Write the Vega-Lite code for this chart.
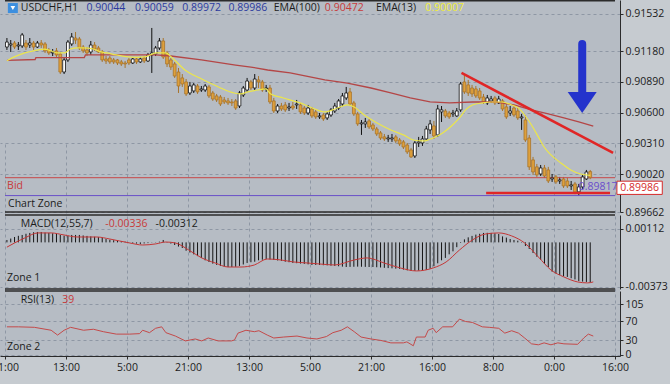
{
"$schema":"https://vega.github.io/schema/vega-lite/v6.json",
"width":620,"height":356,
"autosize":{"type":"none"},
"padding":{"left":0,"top":0,"right":50,"bottom":28},
"background":"#c6cbd0",
"config":{"view":{"fill":"#b6bcc4","stroke":null},"font":"Open Sans","text":{"font":"Open Sans","fontSize":10.5}},
"datasets":{
"bars":[
{"i":0,"o":0.9122,"h":0.91305,"l":0.91192,"c":0.91267,"m":0.0002},
{"i":1,"o":0.91239,"h":0.91286,"l":0.91173,"c":0.91249,"m":0.00032},
{"i":2,"o":0.91258,"h":0.91277,"l":0.91201,"c":0.9122,"m":0.00045},
{"i":3,"o":0.9123,"h":0.91267,"l":0.91192,"c":0.91239,"m":0.00055},
{"i":4,"o":0.9123,"h":0.91352,"l":0.91211,"c":0.91334,"m":0.00062},
{"i":5,"o":0.91258,"h":0.91286,"l":0.91192,"c":0.9122,"m":0.00072},
{"i":6,"o":0.91239,"h":0.91305,"l":0.91211,"c":0.91258,"m":0.00079},
{"i":7,"o":0.91258,"h":0.91277,"l":0.91192,"c":0.9122,"m":0.00085},
{"i":8,"o":0.9122,"h":0.91277,"l":0.91211,"c":0.91258,"m":0.00087},
{"i":9,"o":0.91258,"h":0.91286,"l":0.91211,"c":0.91239,"m":0.00087},
{"i":10,"o":0.91249,"h":0.91267,"l":0.91164,"c":0.91183,"m":0.00082},
{"i":11,"o":0.91192,"h":0.91211,"l":0.91145,"c":0.91164,"m":0.00079},
{"i":12,"o":0.91164,"h":0.91201,"l":0.91135,"c":0.91173,"m":0.00076},
{"i":13,"o":0.91183,"h":0.91211,"l":0.91126,"c":0.91145,"m":0.0007},
{"i":14,"o":0.91154,"h":0.91173,"l":0.90965,"c":0.90984,"m":0.00062},
{"i":15,"o":0.90984,"h":0.91116,"l":0.90965,"c":0.91098,"m":0.00056},
{"i":16,"o":0.91098,"h":0.91286,"l":0.91079,"c":0.91267,"m":0.00056},
{"i":17,"o":0.91249,"h":0.91352,"l":0.9123,"c":0.91315,"m":0.00062},
{"i":18,"o":0.91305,"h":0.91362,"l":0.91249,"c":0.91286,"m":0.00062},
{"i":19,"o":0.91296,"h":0.91315,"l":0.91192,"c":0.91211,"m":0.00062},
{"i":20,"o":0.9122,"h":0.91239,"l":0.91164,"c":0.91183,"m":0.00058},
{"i":21,"o":0.91192,"h":0.9122,"l":0.91135,"c":0.91164,"m":0.00054},
{"i":22,"o":0.91173,"h":0.91277,"l":0.91145,"c":0.91239,"m":0.0005},
{"i":23,"o":0.91239,"h":0.91267,"l":0.91183,"c":0.91201,"m":0.00047},
{"i":24,"o":0.91211,"h":0.9123,"l":0.91164,"c":0.91173,"m":0.00044},
{"i":25,"o":0.91173,"h":0.91192,"l":0.91079,"c":0.91098,"m":0.00038},
{"i":26,"o":0.91107,"h":0.91135,"l":0.9106,"c":0.91088,"m":0.00028},
{"i":27,"o":0.91116,"h":0.91135,"l":0.9106,"c":0.91079,"m":0.00022},
{"i":28,"o":0.91098,"h":0.91116,"l":0.9106,"c":0.91079,"m":0.00018},
{"i":29,"o":0.91098,"h":0.91107,"l":0.9105,"c":0.91069,"m":0.00013},
{"i":30,"o":0.91079,"h":0.91098,"l":0.91041,"c":0.9106,"m":0.0001},
{"i":31,"o":0.91069,"h":0.91088,"l":0.91022,"c":0.9106,"m":0.00006},
{"i":32,"o":0.91098,"h":0.91116,"l":0.9105,"c":0.91069,"m":0.00002},
{"i":33,"o":0.91069,"h":0.91116,"l":0.9106,"c":0.91107,"m":-0.00005},
{"i":34,"o":0.91107,"h":0.91126,"l":0.9106,"c":0.91079,"m":-0.0001},
{"i":35,"o":0.91079,"h":0.91126,"l":0.91069,"c":0.91107,"m":-0.00013},
{"i":36,"o":0.91116,"h":0.91135,"l":0.91069,"c":0.91088,"m":-0.00009},
{"i":37,"o":0.91088,"h":0.91164,"l":0.91079,"c":0.91145,"m":-0.00006},
{"i":38,"o":0.91145,"h":0.914,"l":0.90975,"c":0.91164,"m":-0.00002},
{"i":39,"o":0.91154,"h":0.9123,"l":0.91135,"c":0.91211,"m":0.00002},
{"i":40,"o":0.91211,"h":0.91305,"l":0.91192,"c":0.91277,"m":0.00006},
{"i":41,"o":0.91277,"h":0.91305,"l":0.91107,"c":0.91126,"m":0.0002},
{"i":42,"o":0.91164,"h":0.91183,"l":0.91031,"c":0.9106,"m":-0.00003},
{"i":43,"o":0.91098,"h":0.91116,"l":0.91003,"c":0.91031,"m":-0.0001},
{"i":44,"o":0.9106,"h":0.91079,"l":0.90928,"c":0.90946,"m":-0.00022},
{"i":45,"o":0.90984,"h":0.91022,"l":0.90786,"c":0.90852,"m":-0.00035},
{"i":46,"o":0.90928,"h":0.90965,"l":0.90843,"c":0.90871,"m":-0.00047},
{"i":47,"o":0.9089,"h":0.90918,"l":0.90758,"c":0.90777,"m":-0.0007},
{"i":48,"o":0.90786,"h":0.9089,"l":0.90767,"c":0.90852,"m":-0.00085},
{"i":49,"o":0.90805,"h":0.9088,"l":0.90786,"c":0.90862,"m":-0.001},
{"i":50,"o":0.90852,"h":0.90871,"l":0.90777,"c":0.90796,"m":-0.00115},
{"i":51,"o":0.90814,"h":0.90852,"l":0.90796,"c":0.90824,"m":-0.0013},
{"i":52,"o":0.90814,"h":0.90871,"l":0.90796,"c":0.90852,"m":-0.0015},
{"i":53,"o":0.90843,"h":0.90862,"l":0.90739,"c":0.90758,"m":-0.00164},
{"i":54,"o":0.90786,"h":0.90805,"l":0.90711,"c":0.90729,"m":-0.00178},
{"i":55,"o":0.90758,"h":0.90777,"l":0.90701,"c":0.9072,"m":-0.00188},
{"i":56,"o":0.90748,"h":0.90767,"l":0.90663,"c":0.90682,"m":-0.00197},
{"i":57,"o":0.9072,"h":0.90748,"l":0.90682,"c":0.90701,"m":-0.00202},
{"i":58,"o":0.90711,"h":0.90739,"l":0.90673,"c":0.90692,"m":-0.00206},
{"i":59,"o":0.90701,"h":0.90729,"l":0.90663,"c":0.90692,"m":-0.00206},
{"i":60,"o":0.90711,"h":0.90729,"l":0.90626,"c":0.90644,"m":-0.00204},
{"i":61,"o":0.90663,"h":0.90805,"l":0.90644,"c":0.90786,"m":-0.00197},
{"i":62,"o":0.90767,"h":0.90852,"l":0.90748,"c":0.90833,"m":-0.00185},
{"i":63,"o":0.90814,"h":0.90928,"l":0.90796,"c":0.90899,"m":-0.00172},
{"i":64,"o":0.9089,"h":0.90909,"l":0.90814,"c":0.90833,"m":-0.00166},
{"i":65,"o":0.90833,"h":0.90965,"l":0.90814,"c":0.90918,"m":-0.00162},
{"i":66,"o":0.90909,"h":0.90946,"l":0.90833,"c":0.9089,"m":-0.0015},
{"i":67,"o":0.9089,"h":0.90909,"l":0.90796,"c":0.90814,"m":-0.00145},
{"i":68,"o":0.90824,"h":0.90862,"l":0.90796,"c":0.90833,"m":-0.00139},
{"i":69,"o":0.90833,"h":0.90862,"l":0.90682,"c":0.90701,"m":-0.00143},
{"i":70,"o":0.90711,"h":0.90739,"l":0.90597,"c":0.90616,"m":-0.00147},
{"i":71,"o":0.90616,"h":0.90682,"l":0.90597,"c":0.90663,"m":-0.00151},
{"i":72,"o":0.90663,"h":0.90692,"l":0.90616,"c":0.90635,"m":-0.00155},
{"i":73,"o":0.90673,"h":0.90701,"l":0.90607,"c":0.90626,"m":-0.00162},
{"i":74,"o":0.90644,"h":0.90692,"l":0.90616,"c":0.90654,"m":-0.00166},
{"i":75,"o":0.90663,"h":0.90701,"l":0.90626,"c":0.90644,"m":-0.00172},
{"i":76,"o":0.90673,"h":0.9072,"l":0.90635,"c":0.90682,"m":-0.00174},
{"i":77,"o":0.90673,"h":0.90692,"l":0.90588,"c":0.90607,"m":-0.00177},
{"i":78,"o":0.90644,"h":0.90663,"l":0.90578,"c":0.90597,"m":-0.0018},
{"i":79,"o":0.90597,"h":0.90673,"l":0.90578,"c":0.90644,"m":-0.00184},
{"i":80,"o":0.90635,"h":0.90654,"l":0.9055,"c":0.90569,"m":-0.00189},
{"i":81,"o":0.90607,"h":0.90626,"l":0.90541,"c":0.9056,"m":-0.00189},
{"i":82,"o":0.9056,"h":0.90597,"l":0.90541,"c":0.90569,"m":-0.00189},
{"i":83,"o":0.90578,"h":0.90597,"l":0.90522,"c":0.90541,"m":-0.00191},
{"i":84,"o":0.9055,"h":0.90607,"l":0.90531,"c":0.90588,"m":-0.00192},
{"i":85,"o":0.90578,"h":0.90644,"l":0.9056,"c":0.90626,"m":-0.00195},
{"i":86,"o":0.90616,"h":0.90692,"l":0.90597,"c":0.90663,"m":-0.00197},
{"i":87,"o":0.90644,"h":0.90729,"l":0.90626,"c":0.90711,"m":-0.002},
{"i":88,"o":0.90682,"h":0.90786,"l":0.90663,"c":0.90758,"m":-0.00203},
{"i":89,"o":0.90739,"h":0.90843,"l":0.9072,"c":0.90786,"m":-0.00206},
{"i":90,"o":0.90796,"h":0.90833,"l":0.90663,"c":0.90682,"m":-0.00205},
{"i":91,"o":0.90692,"h":0.90711,"l":0.90569,"c":0.90588,"m":-0.00204},
{"i":92,"o":0.90588,"h":0.90607,"l":0.90475,"c":0.90494,"m":-0.00203},
{"i":93,"o":0.90494,"h":0.90531,"l":0.9039,"c":0.90503,"m":-0.00204},
{"i":94,"o":0.90494,"h":0.9055,"l":0.90456,"c":0.90512,"m":-0.00205},
{"i":95,"o":0.90522,"h":0.90541,"l":0.90446,"c":0.90465,"m":-0.00206},
{"i":96,"o":0.90484,"h":0.90503,"l":0.90427,"c":0.90446,"m":-0.00206},
{"i":97,"o":0.90446,"h":0.90465,"l":0.9038,"c":0.90399,"m":-0.00208},
{"i":98,"o":0.90409,"h":0.90427,"l":0.90342,"c":0.90361,"m":-0.0021},
{"i":99,"o":0.90371,"h":0.90399,"l":0.90333,"c":0.90352,"m":-0.00213},
{"i":100,"o":0.90352,"h":0.9039,"l":0.90324,"c":0.90361,"m":-0.00215},
{"i":101,"o":0.90352,"h":0.90399,"l":0.90324,"c":0.90361,"m":-0.00217},
{"i":102,"o":0.90371,"h":0.9039,"l":0.90314,"c":0.90333,"m":-0.0022},
{"i":103,"o":0.90342,"h":0.90361,"l":0.90286,"c":0.90305,"m":-0.00222},
{"i":104,"o":0.90324,"h":0.90342,"l":0.90257,"c":0.90276,"m":-0.00228},
{"i":105,"o":0.90295,"h":0.90314,"l":0.9021,"c":0.90229,"m":-0.00234},
{"i":106,"o":0.90248,"h":0.90267,"l":0.90172,"c":0.90182,"m":-0.00239},
{"i":107,"o":0.90191,"h":0.90333,"l":0.90172,"c":0.90314,"m":-0.00238},
{"i":108,"o":0.90314,"h":0.90371,"l":0.90276,"c":0.90324,"m":-0.00236},
{"i":109,"o":0.90314,"h":0.9038,"l":0.90286,"c":0.90352,"m":-0.00233},
{"i":110,"o":0.90352,"h":0.90475,"l":0.90333,"c":0.90446,"m":-0.00231},
{"i":111,"o":0.90437,"h":0.90531,"l":0.90399,"c":0.90494,"m":-0.0022},
{"i":112,"o":0.90475,"h":0.90522,"l":0.90352,"c":0.9038,"m":-0.002},
{"i":113,"o":0.9039,"h":0.90673,"l":0.90371,"c":0.90635,"m":-0.00175},
{"i":114,"o":0.90607,"h":0.90663,"l":0.90512,"c":0.90626,"m":-0.0015},
{"i":115,"o":0.90616,"h":0.90635,"l":0.9055,"c":0.90569,"m":-0.0013},
{"i":116,"o":0.90597,"h":0.90616,"l":0.90541,"c":0.9056,"m":-0.001},
{"i":117,"o":0.90588,"h":0.90626,"l":0.9056,"c":0.90597,"m":-0.00075},
{"i":118,"o":0.90569,"h":0.90644,"l":0.9056,"c":0.90616,"m":-0.0004},
{"i":119,"o":0.90626,"h":0.9089,"l":0.90607,"c":0.90871,"m":-0.00005},
{"i":120,"o":0.9089,"h":0.90965,"l":0.90777,"c":0.90796,"m":0.00025},
{"i":121,"o":0.90862,"h":0.90909,"l":0.90758,"c":0.90786,"m":0.00042},
{"i":122,"o":0.90833,"h":0.90862,"l":0.90748,"c":0.90777,"m":0.00054},
{"i":123,"o":0.90824,"h":0.90852,"l":0.90739,"c":0.90758,"m":0.00065},
{"i":124,"o":0.90805,"h":0.90833,"l":0.9072,"c":0.90739,"m":0.00072},
{"i":125,"o":0.90748,"h":0.90777,"l":0.90682,"c":0.90701,"m":0.00079},
{"i":126,"o":0.90692,"h":0.90767,"l":0.90673,"c":0.90739,"m":0.0008},
{"i":127,"o":0.90711,"h":0.90758,"l":0.90692,"c":0.90729,"m":0.00079},
{"i":128,"o":0.90739,"h":0.90758,"l":0.90673,"c":0.90692,"m":0.00075},
{"i":129,"o":0.90692,"h":0.90758,"l":0.90682,"c":0.90729,"m":0.0007},
{"i":130,"o":0.90711,"h":0.90729,"l":0.90616,"c":0.90635,"m":0.0005},
{"i":131,"o":0.90654,"h":0.90682,"l":0.90541,"c":0.9056,"m":0.0004},
{"i":132,"o":0.90597,"h":0.90663,"l":0.90569,"c":0.90616,"m":0.00028},
{"i":133,"o":0.90644,"h":0.90673,"l":0.9056,"c":0.90578,"m":0.0002},
{"i":134,"o":0.90616,"h":0.90644,"l":0.90531,"c":0.9055,"m":0.00014},
{"i":135,"o":0.9055,"h":0.90588,"l":0.90437,"c":0.9056,"m":-0.00003},
{"i":136,"o":0.90531,"h":0.90578,"l":0.90324,"c":0.90342,"m":-0.0003},
{"i":137,"o":0.90361,"h":0.9039,"l":0.90059,"c":0.90088,"m":-0.00055},
{"i":138,"o":0.90154,"h":0.90182,"l":0.90012,"c":0.9004,"m":-0.00089},
{"i":139,"o":0.90088,"h":0.90116,"l":0.89993,"c":0.90012,"m":-0.0012},
{"i":140,"o":0.90021,"h":0.90106,"l":0.90002,"c":0.90078,"m":-0.00147},
{"i":141,"o":0.90078,"h":0.90106,"l":0.89984,"c":0.90002,"m":-0.0018},
{"i":142,"o":0.90059,"h":0.90088,"l":0.89936,"c":0.89955,"m":-0.00206},
{"i":143,"o":0.89974,"h":0.90021,"l":0.89946,"c":0.89984,"m":-0.00245},
{"i":144,"o":0.89993,"h":0.90012,"l":0.89927,"c":0.89946,"m":-0.0026},
{"i":145,"o":0.89955,"h":0.89993,"l":0.89927,"c":0.89965,"m":-0.00273},
{"i":146,"o":0.89974,"h":0.89993,"l":0.89889,"c":0.89908,"m":-0.00283},
{"i":147,"o":0.89955,"h":0.89984,"l":0.89889,"c":0.89908,"m":-0.00289},
{"i":148,"o":0.89908,"h":0.89955,"l":0.8987,"c":0.89918,"m":-0.003},
{"i":149,"o":0.89927,"h":0.89946,"l":0.8983,"c":0.89852,"m":-0.0031},
{"i":150,"o":0.89852,"h":0.89927,"l":0.89817,"c":0.89899,"m":-0.00323},
{"i":151,"o":0.89899,"h":0.90012,"l":0.8988,"c":0.89993,"m":-0.00328},
{"i":152,"o":0.89974,"h":0.90059,"l":0.89965,"c":0.9004,"m":-0.00331},
{"i":153,"o":0.90044,"h":0.90059,"l":0.89972,"c":0.89986,"m":-0.00336}
],
"ema13":[
{"i":0,"v":0.91091},{"i":2.1,"v":0.91129},{"i":4.7,"v":0.91164},{"i":7.2,"v":0.91185},{"i":9.8,"v":0.91201},{"i":11.5,"v":0.91185},{"i":13.3,"v":0.91164},{"i":15,"v":0.91164},{"i":16.7,"v":0.91201},{"i":18.4,"v":0.91211},{"i":20.1,"v":0.91211},{"i":22.7,"v":0.91201},{"i":24.5,"v":0.91176},{"i":26.2,"v":0.91164},{"i":28.7,"v":0.91145},{"i":31.3,"v":0.91129},{"i":33.9,"v":0.91123},{"i":36.5,"v":0.91129},{"i":39.1,"v":0.91164},{"i":41.6,"v":0.91164},{"i":43.4,"v":0.91116},{"i":46.7,"v":0.91003},{"i":51.1,"v":0.90918},{"i":55.5,"v":0.90843},{"i":59.6,"v":0.90786},{"i":61.4,"v":0.90777},{"i":63.2,"v":0.90796},{"i":65.8,"v":0.90814},{"i":67.9,"v":0.90824},{"i":69.2,"v":0.90777},{"i":72.5,"v":0.90739},{"i":76.9,"v":0.90692},{"i":79.5,"v":0.90654},{"i":83.4,"v":0.90607},{"i":86.7,"v":0.90644},{"i":89.3,"v":0.90673},{"i":91.1,"v":0.90654},{"i":93.7,"v":0.90578},{"i":97.1,"v":0.90503},{"i":100.7,"v":0.90437},{"i":104,"v":0.9039},{"i":106.6,"v":0.90342},{"i":109.2,"v":0.90333},{"i":111.8,"v":0.90361},{"i":114.3,"v":0.90409},{"i":116.9,"v":0.90484},{"i":118.7,"v":0.9055},{"i":120.3,"v":0.90626},{"i":122.1,"v":0.90673},{"i":124.7,"v":0.90692},{"i":127.2,"v":0.90701},{"i":129.8,"v":0.90701},{"i":132.4,"v":0.90673},{"i":134.2,"v":0.90644},{"i":135.8,"v":0.90578},{"i":137.6,"v":0.90484},{"i":139.4,"v":0.90371},{"i":140.9,"v":0.90276},{"i":142.7,"v":0.90201},{"i":145.3,"v":0.90125},{"i":147.9,"v":0.90059},{"i":150.5,"v":0.90021},{"i":153,"v":0.90007}
],
"ema100":[
{"i":0,"v":0.91093},{"i":7.4,"v":0.91102},{"i":7.6,"v":0.91119},{"i":20.3,"v":0.91121},{"i":20.6,"v":0.91145},{"i":39,"v":0.91145},{"i":43,"v":0.91135},{"i":51,"v":0.91098},{"i":60,"v":0.9105},{"i":64,"v":0.91031},{"i":68.4,"v":0.91003},{"i":74.3,"v":0.90975},{"i":79.5,"v":0.90937},{"i":83.4,"v":0.90909},{"i":89.3,"v":0.9088},{"i":95.5,"v":0.90833},{"i":100.7,"v":0.90786},{"i":105.8,"v":0.90739},{"i":111,"v":0.90701},{"i":116.1,"v":0.90692},{"i":122.1,"v":0.90701},{"i":128,"v":0.90701},{"i":133,"v":0.90673},{"i":137.6,"v":0.90626},{"i":142,"v":0.90588},{"i":146.1,"v":0.9055},{"i":150,"v":0.90512},{"i":153.8,"v":0.90472}
],
"sig":[
{"i":0,"v":-0.0004},{"i":2,"v":-0.00005},{"i":4.7,"v":0.00037},{"i":8.1,"v":0.00079},{"i":11.6,"v":0.00079},{"i":15,"v":0.00062},{"i":18.4,"v":0.00045},{"i":23.6,"v":0.00045},{"i":27,"v":0.00028},{"i":32.2,"v":-0.00005},{"i":35.6,"v":-0.00022},{"i":39,"v":-0.00013},{"i":41.7,"v":0.00003},{"i":44.2,"v":-0.00005},{"i":47.7,"v":-0.00064},{"i":51.1,"v":-0.0013},{"i":54.6,"v":-0.00172},{"i":58,"v":-0.00206},{"i":61.4,"v":-0.00206},{"i":64.9,"v":-0.00189},{"i":68.3,"v":-0.00139},{"i":71.8,"v":-0.00147},{"i":75.2,"v":-0.00164},{"i":78.7,"v":-0.00172},{"i":82.1,"v":-0.00181},{"i":86,"v":-0.00189},{"i":91.1,"v":-0.00147},{"i":94.5,"v":-0.0013},{"i":98.9,"v":-0.00172},{"i":103.2,"v":-0.00214},{"i":107.4,"v":-0.00239},{"i":111.8,"v":-0.00214},{"i":115.2,"v":-0.00164},{"i":118.7,"v":-0.00064},{"i":122.1,"v":0.0002},{"i":125.5,"v":0.0007},{"i":129,"v":0.00079},{"i":132.4,"v":0.00054},{"i":135.8,"v":-0.00005},{"i":139.4,"v":-0.00122},{"i":142.7,"v":-0.00231},{"i":146.1,"v":-0.00289},{"i":149.7,"v":-0.00331},{"i":152.3,"v":-0.00339},{"i":153.8,"v":-0.00331}
],
"rsi":[
{"i":0,"v":58},{"i":3,"v":58},{"i":7.2,"v":57},{"i":11.6,"v":51},{"i":13.3,"v":41},{"i":15,"v":51},{"i":16.7,"v":57},{"i":20.1,"v":51},{"i":22.7,"v":53},{"i":25.3,"v":48},{"i":28.7,"v":43},{"i":32.2,"v":43},{"i":34.8,"v":44},{"i":35.6,"v":51},{"i":37.4,"v":46},{"i":39,"v":55},{"i":40.6,"v":58},{"i":41.7,"v":46},{"i":44.2,"v":39},{"i":46.8,"v":29},{"i":49.4,"v":33},{"i":51.1,"v":29},{"i":52.8,"v":35},{"i":55.4,"v":29},{"i":58.9,"v":29},{"i":59.7,"v":31},{"i":60.6,"v":45},{"i":62.7,"v":51},{"i":64.9,"v":48},{"i":66.1,"v":50},{"i":68.3,"v":41},{"i":70,"v":35},{"i":72.6,"v":37},{"i":76.1,"v":39},{"i":78.7,"v":35},{"i":81.3,"v":33},{"i":83.8,"v":38},{"i":85.5,"v":46},{"i":87.7,"v":51},{"i":89.3,"v":58},{"i":91.1,"v":48},{"i":92.9,"v":37},{"i":95.5,"v":33},{"i":98.1,"v":30},{"i":100.7,"v":25},{"i":104,"v":25},{"i":104.9,"v":27},{"i":106.6,"v":19},{"i":107.4,"v":37},{"i":109.7,"v":37},{"i":110.5,"v":51},{"i":111.8,"v":55},{"i":112.6,"v":46},{"i":114.3,"v":58},{"i":116.9,"v":58},{"i":118.7,"v":74},{"i":120.3,"v":69},{"i":122.1,"v":67},{"i":124.7,"v":58},{"i":126.5,"v":57},{"i":129,"v":55},{"i":130.6,"v":45},{"i":132.4,"v":50},{"i":134.2,"v":45},{"i":135.8,"v":35},{"i":137.6,"v":23},{"i":139.4,"v":21},{"i":140.9,"v":25},{"i":142.7,"v":21},{"i":144.5,"v":25},{"i":146.1,"v":23},{"i":149.7,"v":22},{"i":151.3,"v":35},{"i":152.5,"v":43},{"i":153.8,"v":39}
],
"trend":[{"i":119.24,"v":0.90975},{"i":159.0,"v":0.9022}],
"support":[{"i":125.7,"v":0.89842},{"i":158.2,"v":0.89842}],
"arrow":[{"i":150.9,"top":0.91249,"bot":0.90767,"head":0.90696}],
"icon":[{"i":1.56,"v":0.91588}],
"box":[{"i":160.0,"i2":171.9,"v":0.89953,"v2":0.89828,"t":"0.89986","ic":165.95,"vc":0.8989}],
"bidline":[{"v":0.89986,"a":-0.5,"b":159.5}],
"lowline":[{"v":0.89817,"a":-0.5,"b":159.5}],
"sepP":[{"v":0.89662,"a":-0.5,"b":159.5},{"v":0.91657,"a":-0.5,"b":159.5}],
"sepM":[{"v":0.00229,"a":-0.5,"b":159.5},{"v":-0.0039,"a":-0.5,"b":159.5}],
"sepR":[{"v":131.8,"a":-0.5,"b":159.5}],
"txtP":[
{"t":"USDCHF,H1","i":3.63,"v":0.91588,"k":"dark"},
{"t":"0.90044","i":20.9,"v":0.91588,"k":"blue"},
{"t":"0.90059","i":33.6,"v":0.91588,"k":"blue"},
{"t":"0.89972","i":46.0,"v":0.91588,"k":"blue"},
{"t":"0.89986","i":58.1,"v":0.91588,"k":"blue"},
{"t":"EMA(100)","i":70.0,"v":0.91588,"k":"dark"},
{"t":"0.90472","i":83.4,"v":0.91588,"k":"red"},
{"t":"EMA(13)","i":96.8,"v":0.91588,"k":"dark"},
{"t":"0.90007","i":109.7,"v":0.91588,"k":"yellow"},
{"t":"Bid","i":0.05,"v":0.89908,"k":"red"},
{"t":"Chart Zone","i":0.3,"v":0.89738,"k":"dark"},
{"t":"0.89817","i":150.0,"v":0.89899,"k":"purple"}
],
"txtM":[
{"t":"MACD(12,55,7)","i":3.63,"v":0.00154,"k":"dark"},
{"t":"-0.00336","i":25.8,"v":0.00154,"k":"red"},
{"t":"-0.00312","i":39.0,"v":0.00154,"k":"dark"},
{"t":"Zone 1","i":0.0,"v":-0.00298,"k":"dark"}
],
"txtR":[
{"t":"RSI(13)","i":3.63,"v":113,"k":"dark"},
{"t":"39","i":14.5,"v":113,"k":"red"},
{"t":"Zone 2","i":0.0,"v":16.5,"k":"dark"}
]
},
"layer":[
{"layer":[
 {"data":{"name":"bars"},"mark":{"type":"rule","strokeWidth":1},
  "encoding":{
   "x":{"field":"i","type":"quantitative","scale":{"domain":[-0.5,159.5],"nice":false,"zero":false},
        "axis":{"orient":"bottom","values":[-0.5,7.5,15.5,23.5,31.5,39.5,47.5,55.5,63.5,71.5,79.5,87.5,95.5,103.5,111.5,119.5,127.5,135.5,143.5,151.5,159.5],
        "labelExpr":"datum.value==-0.5?'21:00':datum.value==15.5?'13:00':datum.value==31.5?'5:00':datum.value==47.5?'21:00':datum.value==63.5?'13:00':datum.value==79.5?'5:00':datum.value==95.5?'21:00':datum.value==111.5?'16:00':datum.value==127.5?'8:00':datum.value==143.5?'0:00':datum.value==159.5?'16:00':''",
        "title":null,"grid":true,"gridColor":"#8e97a4","gridDash":[3,3],"gridWidth":1,"domain":true,"domainColor":"#2b2b2b","ticks":true,"tickColor":"#2b2b2b","tickSize":3,"labelPadding":3,"labelFontSize":10.5,"labelFont":"Open Sans","labelColor":"#1c1c1c","labelFlush":false,"labelOverlap":false,"labelBound":false}},
   "y":{"field":"h","type":"quantitative","scale":{"domain":[0.89662,0.91664],"range":[212,0],"nice":false,"zero":false},
        "axis":{"orient":"right","values":[0.89662,0.9002,0.9031,0.906,0.9089,0.9118,0.91532],"format":".5f","title":null,"grid":true,"gridColor":"#8e97a4","gridDash":[3,3],"gridWidth":1,"domain":true,"domainColor":"#2b2b2b","ticks":true,"tickColor":"#2b2b2b","tickSize":3,"labelPadding":2,"labelFontSize":10.5,"labelFont":"Open Sans","labelColor":"#1c1c1c","labelFlush":false,"labelOverlap":false,"labelBound":false}},
   "y2":{"field":"l"},
   "color":{"condition":{"test":"datum.c >= datum.o","value":"#111111"},"value":"#a8742a"}
  }},
 {"data":{"name":"bidline"},"mark":{"type":"rule","color":"#c84848","strokeWidth":1},"encoding":{"x":{"field":"a","type":"quantitative","scale":{"domain":[-0.5,159.5],"nice":false,"zero":false}},"x2":{"field":"b"},"y":{"field":"v","type":"quantitative","scale":{"domain":[0.89662,0.91664],"range":[212,0],"nice":false,"zero":false}}}},
 {"data":{"name":"lowline"},"mark":{"type":"rule","color":"#6a50c8","strokeWidth":1},"encoding":{"x":{"field":"a","type":"quantitative","scale":{"domain":[-0.5,159.5],"nice":false,"zero":false}},"x2":{"field":"b"},"y":{"field":"v","type":"quantitative","scale":{"domain":[0.89662,0.91664],"range":[212,0],"nice":false,"zero":false}}}},
 {"data":{"name":"bars"},"mark":{"type":"bar","width":2.8,"strokeWidth":0.8},
  "encoding":{
   "x":{"field":"i","type":"quantitative","scale":{"domain":[-0.5,159.5],"nice":false,"zero":false}},
   "y":{"field":"o","type":"quantitative","scale":{"domain":[0.89662,0.91664],"range":[212,0],"nice":false,"zero":false}},
   "y2":{"field":"c"},
   "fill":{"condition":{"test":"datum.c >= datum.o","value":"#ffffff"},"value":"#dea03c"},
   "stroke":{"condition":{"test":"datum.c >= datum.o","value":"#111111"},"value":"#a8742a"}
  }},
 {"data":{"name":"ema100"},"mark":{"type":"line","color":"#b44646","strokeWidth":1.3},
  "encoding":{"x":{"field":"i","type":"quantitative","scale":{"domain":[-0.5,159.5],"nice":false,"zero":false}},
   "y":{"field":"v","type":"quantitative","scale":{"domain":[0.89662,0.91664],"range":[212,0],"nice":false,"zero":false}}}},
 {"data":{"name":"ema13"},"mark":{"type":"line","color":"#ece64a","strokeWidth":1.2,"interpolate":"monotone"},
  "encoding":{"x":{"field":"i","type":"quantitative","scale":{"domain":[-0.5,159.5],"nice":false,"zero":false}},
   "y":{"field":"v","type":"quantitative","scale":{"domain":[0.89662,0.91664],"range":[212,0],"nice":false,"zero":false}}}},
 {"data":{"name":"trend"},"mark":{"type":"line","color":"#e02626","strokeWidth":2.5},
  "encoding":{"x":{"field":"i","type":"quantitative","scale":{"domain":[-0.5,159.5],"nice":false,"zero":false}},
   "y":{"field":"v","type":"quantitative","scale":{"domain":[0.89662,0.91664],"range":[212,0],"nice":false,"zero":false}}}},
 {"data":{"name":"support"},"mark":{"type":"line","color":"#e02626","strokeWidth":2.5},
  "encoding":{"x":{"field":"i","type":"quantitative","scale":{"domain":[-0.5,159.5],"nice":false,"zero":false}},
   "y":{"field":"v","type":"quantitative","scale":{"domain":[0.89662,0.91664],"range":[212,0],"nice":false,"zero":false}}}},
 {"data":{"name":"arrow"},"mark":{"type":"rule","color":"#2433cc","strokeWidth":8,"strokeCap":"round"},
  "encoding":{"x":{"field":"i","type":"quantitative","scale":{"domain":[-0.5,159.5],"nice":false,"zero":false}},
   "y":{"field":"top","type":"quantitative","scale":{"domain":[0.89662,0.91664],"range":[212,0],"nice":false,"zero":false}},
   "y2":{"field":"bot"}}},
 {"data":{"name":"arrow"},"mark":{"type":"point","shape":"M-1,-0.72L1,-0.72L0,0.72Z","filled":true,"opacity":1,"color":"#2433cc","size":841},
  "encoding":{"x":{"field":"i","type":"quantitative","scale":{"domain":[-0.5,159.5],"nice":false,"zero":false}},
   "y":{"field":"head","type":"quantitative","scale":{"domain":[0.89662,0.91664],"range":[212,0],"nice":false,"zero":false}}}},
 {"data":{"name":"icon"},"mark":{"type":"point","shape":"square","filled":true,"opacity":1,"color":"#3d8fdf","size":100},
  "encoding":{"x":{"field":"i","type":"quantitative","scale":{"domain":[-0.5,159.5],"nice":false,"zero":false}},
   "y":{"field":"v","type":"quantitative","scale":{"domain":[0.89662,0.91664],"range":[212,0],"nice":false,"zero":false}}}},
 {"data":{"name":"icon"},"mark":{"type":"point","shape":"triangle-down","filled":true,"opacity":1,"color":"#ffffff","size":22},
  "encoding":{"x":{"field":"i","type":"quantitative","scale":{"domain":[-0.5,159.5],"nice":false,"zero":false}},
   "y":{"field":"v","type":"quantitative","scale":{"domain":[0.89662,0.91664],"range":[212,0],"nice":false,"zero":false}}}},
 {"data":{"name":"box"},"mark":{"type":"rect","fill":"#ffffff","stroke":"#d42a2a","strokeWidth":1},
  "encoding":{"x":{"field":"i","type":"quantitative","scale":{"domain":[-0.5,159.5],"nice":false,"zero":false}},"x2":{"field":"i2"},
   "y":{"field":"v","type":"quantitative","scale":{"domain":[0.89662,0.91664],"range":[212,0],"nice":false,"zero":false}},"y2":{"field":"v2"}}},
 {"data":{"name":"box"},"mark":{"type":"text","align":"center","baseline":"middle","color":"#d42a2a","fontSize":10.5},
  "encoding":{"x":{"field":"ic","type":"quantitative","scale":{"domain":[-0.5,159.5],"nice":false,"zero":false}},
   "y":{"field":"vc","type":"quantitative","scale":{"domain":[0.89662,0.91664],"range":[212,0],"nice":false,"zero":false}},"text":{"field":"t"}}},
 {"data":{"name":"txtP"},"mark":{"type":"text","align":"left","baseline":"middle","fontSize":10.5},
  "encoding":{"x":{"field":"i","type":"quantitative","scale":{"domain":[-0.5,159.5],"nice":false,"zero":false}},
   "y":{"field":"v","type":"quantitative","scale":{"domain":[0.89662,0.91664],"range":[212,0],"nice":false,"zero":false}},
   "text":{"field":"t"},
   "color":{"field":"k","type":"nominal","scale":{"domain":["dark","blue","red","yellow","purple"],"range":["#1c1c1c","#2b3a9e","#c83a3a","#f2ee3a","#6a4ccc"]},"legend":null}}},
 {"data":{"name":"sepP"},"mark":{"type":"rule","color":"#2b2b2b","strokeWidth":1.3},"encoding":{"x":{"field":"a","type":"quantitative","scale":{"domain":[-0.5,159.5],"nice":false,"zero":false}},"x2":{"field":"b"},"y":{"field":"v","type":"quantitative","scale":{"domain":[0.89662,0.91664],"range":[212,0],"nice":false,"zero":false}}}}
]},
{"layer":[
 {"data":{"name":"bars"},"mark":{"type":"rule","color":"#151515","strokeWidth":1},
  "encoding":{"x":{"field":"i","type":"quantitative","scale":{"domain":[-0.5,159.5],"nice":false,"zero":false}},
   "y":{"field":"m","type":"quantitative","scale":{"domain":[-0.0039,0.00229],"range":[289,215],"nice":false,"zero":false},
        "axis":{"orient":"right","values":[-0.00373,0.00112],"labelExpr":"replace(format(datum.value,'.5f'),'\u2212','-')","title":null,"grid":true,"gridColor":"#8e97a4","gridDash":[3,3],"gridWidth":1,"domain":true,"domainColor":"#2b2b2b","ticks":true,"tickColor":"#2b2b2b","tickSize":3,"labelPadding":2,"labelFontSize":10.5,"labelFont":"Open Sans","labelColor":"#1c1c1c","labelFlush":false,"labelOverlap":false,"labelBound":false}},
   "y2":{"datum":0}}},
 {"data":{"name":"sig"},"mark":{"type":"line","color":"#c43636","strokeWidth":1,"interpolate":"monotone"},
  "encoding":{"x":{"field":"i","type":"quantitative","scale":{"domain":[-0.5,159.5],"nice":false,"zero":false}},
   "y":{"field":"v","type":"quantitative","scale":{"domain":[-0.0039,0.00229],"range":[289,215],"nice":false,"zero":false}}}},
 {"data":{"name":"txtM"},"mark":{"type":"text","align":"left","baseline":"middle","fontSize":10.5},
  "encoding":{"x":{"field":"i","type":"quantitative","scale":{"domain":[-0.5,159.5],"nice":false,"zero":false}},
   "y":{"field":"v","type":"quantitative","scale":{"domain":[-0.0039,0.00229],"range":[289,215],"nice":false,"zero":false}},
   "text":{"field":"t"},
   "color":{"field":"k","type":"nominal","scale":{"domain":["dark","blue","red","yellow","purple"],"range":["#1c1c1c","#2b3a9e","#c83a3a","#f2ee3a","#6a4ccc"]},"legend":null}}},
 {"data":{"name":"sepM"},"mark":{"type":"rule","color":"#2b2b2b","strokeWidth":1.3},"encoding":{"x":{"field":"a","type":"quantitative","scale":{"domain":[-0.5,159.5],"nice":false,"zero":false}},"x2":{"field":"b"},"y":{"field":"v","type":"quantitative","scale":{"domain":[-0.0039,0.00229],"range":[289,215],"nice":false,"zero":false}}}}
]},
{"layer":[
 {"data":{"name":"rsi"},"mark":{"type":"line","color":"#c44a4a","strokeWidth":1},
  "encoding":{"x":{"field":"i","type":"quantitative","scale":{"domain":[-0.5,159.5],"nice":false,"zero":false}},
   "y":{"field":"v","type":"quantitative","scale":{"domain":[-2.06,131.8],"range":[356,291],"nice":false,"zero":false},
        "axis":{"orient":"right","values":[0,30,70,105],"format":"d","title":null,"grid":true,"gridColor":"#8e97a4","gridDash":[3,3],"gridWidth":1,"domain":true,"domainColor":"#2b2b2b","ticks":true,"tickColor":"#2b2b2b","tickSize":3,"labelPadding":2,"labelFontSize":10.5,"labelFont":"Open Sans","labelColor":"#1c1c1c","labelFlush":false,"labelOverlap":false,"labelBound":false}}}},
 {"data":{"name":"txtR"},"mark":{"type":"text","align":"left","baseline":"middle","fontSize":10.5},
  "encoding":{"x":{"field":"i","type":"quantitative","scale":{"domain":[-0.5,159.5],"nice":false,"zero":false}},
   "y":{"field":"v","type":"quantitative","scale":{"domain":[-2.06,131.8],"range":[356,291],"nice":false,"zero":false}},
   "text":{"field":"t"},
   "color":{"field":"k","type":"nominal","scale":{"domain":["dark","blue","red","yellow","purple"],"range":["#1c1c1c","#2b3a9e","#c83a3a","#f2ee3a","#6a4ccc"]},"legend":null}}},
 {"data":{"name":"sepR"},"mark":{"type":"rule","color":"#2b2b2b","strokeWidth":1.3},"encoding":{"x":{"field":"a","type":"quantitative","scale":{"domain":[-0.5,159.5],"nice":false,"zero":false}},"x2":{"field":"b"},"y":{"field":"v","type":"quantitative","scale":{"domain":[-2.06,131.8],"range":[356,291],"nice":false,"zero":false}}}}
]}
],
"resolve":{"scale":{"y":"independent"},"axis":{"y":"independent"}}
}
